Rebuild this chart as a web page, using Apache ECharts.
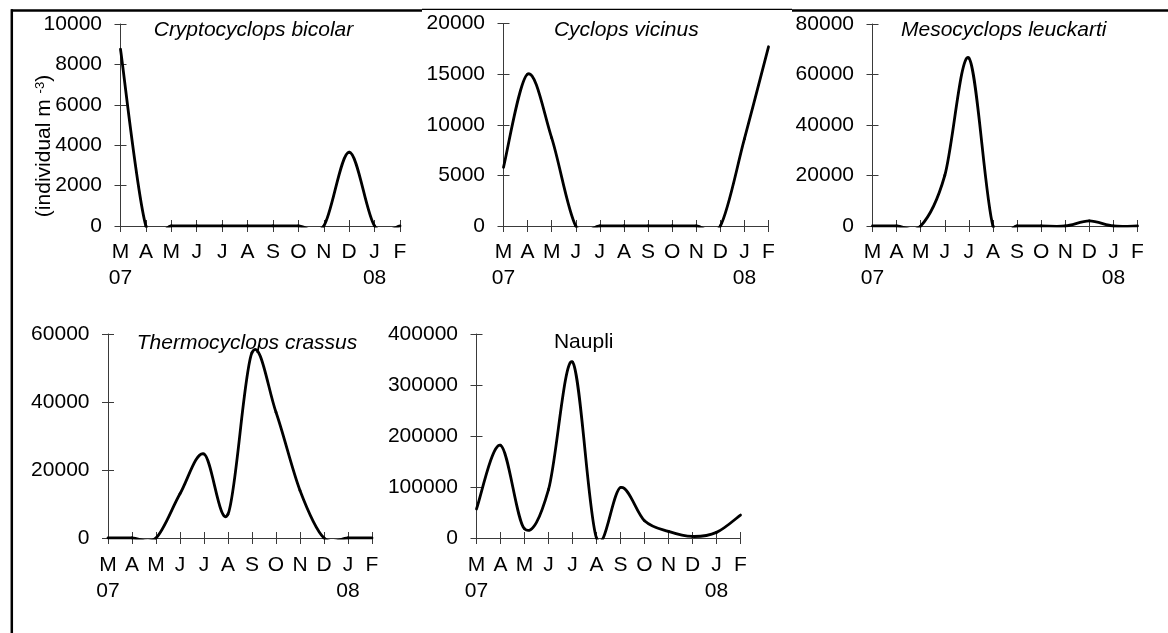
<!DOCTYPE html>
<html><head><meta charset="utf-8">
<script src="https://cdn.jsdelivr.net/npm/echarts@6/dist/echarts.min.js"></script>
<style>html,body{margin:0;padding:0;background:#fff}#c{width:1168px;height:633px}</style>
</head><body><div id="c"></div>
<script>
// ---- data ----
const months = ['M','A','M','J','J','A','S','O','N','D','J','F'];
const years  = ['07','','','','','','','','','','08',''];
const cryptocyclops = [8750, 0, 0, 0, 0, 0, 0, 0, 0, 3650, 0, 0];
const cyclopsVicinus = [5800, 15000, 8700, 0, 0, 0, 0, 0, 0, 0, 8600, 17700];
const mesocyclops = [0, 0, 0, 20000, 66500, 0, 0, 0, 0, 2000, 0, 0];
const thermocyclops = [0, 0, 0, 13000, 24700, 7000, 54500, 37000, 14000, 0, 0, 0];
const naupli = [57000, 182000, 18000, 95000, 345000, 0, 99000, 34000, 13000, 3000, 11000, 45000];
const titles = ['Cryptocyclops bicolar', 'Cyclops vicinus', 'Mesocyclops leuckarti', 'Thermocyclops crassus', 'Naupli'];
const titleItalic = [true, true, true, true, false];
const yMax  = [10000, 20000, 80000, 60000, 400000];
const yStep = [2000, 5000, 20000, 20000, 100000];
const yAxisTitle = '(individual m {sup|-3})';

const seriesData = [cryptocyclops, cyclopsVicinus, mesocyclops, thermocyclops, naupli];

// ---- layout ----
const FONT = '"Liberation Sans", Arial, sans-serif';
const FS = 21;
const AX = '#3a3a3a';
const LW = 2.8;
const panels = [
  {left: 120.5, top: 24,   width: 279.5, height: 202, lm: 13},
  {left: 503.5, top: 23.5, width: 265,   height: 202.5, lm: 13},
  {left: 872.5, top: 24,   width: 265,   height: 202, lm: 13},
  {left: 108,   top: 334,  width: 264,   height: 204, lm: 14},
  {left: 476.5, top: 334,  width: 264,   height: 204, lm: 14}
];
const titlePos = [[253.5, 30], [626.3, 30], [1003.7, 30], [247, 343], [583.7, 342.7]];

const cats = months.map((m, i) => String(i));
const fmtX = (v, i) => months[i] + (years[i] ? '\n' + years[i] : '');
const fmtY = v => String(v);

// Smoothed (Catmull-Rom style) line drawn through the axis scales via api.coord
function makeRenderItem(vals) {
  return function (params, api) {
    if (params.dataIndex !== 0) return null;
    const pts = vals.map((v, i) => api.coord([i, v]));
    const n = pts.length;
    const children = [];
    for (let i = 0; i < n - 1; i++) {
      const p0 = pts[Math.max(i - 1, 0)], p1 = pts[i], p2 = pts[i + 1], p3 = pts[Math.min(i + 2, n - 1)];
      children.push({
        type: 'bezierCurve',
        shape: {
          x1: p1[0], y1: p1[1], x2: p2[0], y2: p2[1],
          cpx1: p1[0] + (p2[0] - p0[0]) / 6, cpy1: p1[1] + (p2[1] - p0[1]) / 6,
          cpx2: p2[0] - (p3[0] - p1[0]) / 6, cpy2: p2[1] - (p3[1] - p1[1]) / 6
        },
        style: {stroke: '#000', fill: null, lineWidth: LW, lineCap: 'round', lineJoin: 'round'}
      });
    }
    const cs = params.coordSys;
    return {
      type: 'group', children,
      clipPath: {type: 'rect', shape: {x: cs.x - 3, y: cs.y - 3, width: cs.width + 6, height: cs.height + 3 + 1.6}}
    };
  };
}

const grid = [], xAxis = [], yAxis = [], series = [];
panels.forEach((p, k) => {
  grid.push({left: p.left, top: p.top, width: p.width, height: p.height, containLabel: false});
  grid.push({left: p.left, top: p.top, width: p.width, height: p.height, containLabel: false});
  const gi = 2 * k;
  xAxis.push({
    gridIndex: gi, type: 'category', data: cats, boundaryGap: false,
    axisLine: {show: true, onZero: false, lineStyle: {color: AX, width: 1}},
    axisTick: {show: true, inside: false, length: 6, interval: 0, lineStyle: {color: AX, width: 1}},
    axisLabel: {show: true, interval: 0, formatter: fmtX, color: '#000', fontFamily: FONT, fontSize: FS, lineHeight: 26, margin: p.lm},
    splitLine: {show: false}
  });
  xAxis.push({
    gridIndex: gi + 1, type: 'category', data: cats, boundaryGap: false,
    axisLine: {show: false, onZero: false},
    axisTick: {show: true, inside: true, length: 6, interval: 0, lineStyle: {color: AX, width: 1}},
    axisLabel: {show: false}, splitLine: {show: false}
  });
  yAxis.push({
    gridIndex: gi, type: 'value', min: 0, max: yMax[k], interval: yStep[k],
    axisLine: {show: true, lineStyle: {color: AX, width: 1}},
    axisTick: {show: true, inside: false, length: 6, lineStyle: {color: AX, width: 1}},
    axisLabel: {show: true, formatter: fmtY, color: '#000', fontFamily: FONT, fontSize: FS, margin: 18.5},
    splitLine: {show: false}
  });
  yAxis.push({
    gridIndex: gi + 1, type: 'value', min: 0, max: yMax[k], interval: yStep[k],
    axisLine: {show: false},
    axisTick: {show: true, inside: true, length: 6, lineStyle: {color: AX, width: 1}},
    axisLabel: {show: false}, splitLine: {show: false}
  });
  series.push({
    type: 'custom', xAxisIndex: gi, yAxisIndex: gi,
    data: seriesData[k].map((v, i) => [i, v]),
    encode: {x: 0, y: 1},
    renderItem: makeRenderItem(seriesData[k]),
    clip: false, silent: true, animation: false, z: 3
  });
});

const graphic = [
  {type: 'line', shape: {x1: 11, y1: 10.5, x2: 422, y2: 10.5}, style: {stroke: '#000', lineWidth: 2.5}},
  {type: 'line', shape: {x1: 422, y1: 9.3, x2: 792, y2: 9.3}, style: {stroke: '#000', lineWidth: 1.3}},
  {type: 'line', shape: {x1: 792, y1: 10.5, x2: 1168, y2: 10.5}, style: {stroke: '#000', lineWidth: 2.5}},
  {type: 'line', shape: {x1: 11.8, y1: 9.3, x2: 11.8, y2: 633}, style: {stroke: '#000', lineWidth: 2.5}},
  {
    type: 'text', x: 44, y: 146, rotation: Math.PI / 2,
    style: {
      text: yAxisTitle, fill: '#000', font: FS + 'px ' + FONT, align: 'center', verticalAlign: 'middle',
      rich: {sup: {fontSize: 13, fontFamily: FONT, fill: '#000', verticalAlign: 'top', lineHeight: 13}}
    }
  }
];
titles.forEach((t, k) => {
  graphic.push({
    type: 'text', x: titlePos[k][0], y: titlePos[k][1],
    style: {text: t, fill: '#000', font: (titleItalic[k] ? 'italic ' : '') + FS + 'px ' + FONT, align: 'center', verticalAlign: 'middle'}
  });
});

const chart = echarts.init(document.getElementById('c'), null, {renderer: 'canvas'});
chart.setOption({
  backgroundColor: '#fff',
  animation: false,
  grid, xAxis, yAxis, series, graphic
});
</script></body></html>
